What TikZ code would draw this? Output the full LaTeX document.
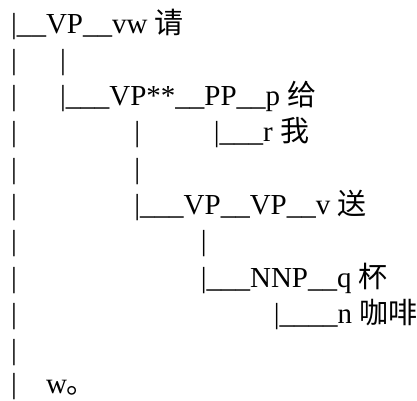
\documentclass[tikz,border=0pt]{standalone}
\usepackage{fontspec}
\setmainfont{Liberation Serif}
\newfontfamily\cjk{Noto Sans CJK SC}
\tikzset{
  ln/.style={anchor=base west, inner sep=0pt, outer sep=0pt, font=\fontsize{29}{36}\selectfont, text=black},
}
\begin{document}
\begin{tikzpicture}[x=1pt,y=-1pt]
\useasboundingbox (0,0) rectangle (417,400);
% line 1
\node[ln] (l1a) at (11.2,33) {\textbar\_\_VP\_\_vw {\cjk 请}};
% line 2
\node[ln] (l2a) at (11.2,69.3) {\textbar};
\node[ln] (l2b) at (60.1,69.3) {\textbar};
% line 3
\node[ln] (l3a) at (11.2,105.6) {\textbar};
\node[ln] (l3b) at (60.1,105.6) {\textbar\_\_\_VP**\_\_PP\_\_p {\cjk 给}};
% line 4
\node[ln] (l4a) at (11.2,141.9) {\textbar};
\node[ln] (l4c) at (134.4,141.9) {\textbar};
\node[ln] (l4d) at (213.8,141.9) {\textbar\_\_\_r {\cjk 我}};
% line 5
\node[ln] (l5a) at (11.2,178.2) {\textbar};
\node[ln] (l5c) at (134.4,178.2) {\textbar};
% line 6
\node[ln] (l6a) at (11.2,214.5) {\textbar};
\node[ln] (l6c) at (134.4,214.5) {\textbar\_\_\_VP\_\_VP\_\_v {\cjk 送}};
% line 7
\node[ln] (l7a) at (11.2,250.8) {\textbar};
\node[ln] (l7e) at (200.8,250.8) {\textbar};
% line 8
\node[ln] (l8a) at (11.2,287.1) {\textbar};
\node[ln] (l8e) at (200.8,287.1) {\textbar\_\_\_NNP\_\_q {\cjk 杯}};
% line 9
\node[ln] (l9a) at (11.2,323.4) {\textbar};
\node[ln] (l9f) at (273.8,323.4) {\textbar\_\_\_\_n {\cjk 咖啡}};
% line 10
\node[ln] (l10a) at (11.2,359.7) {\textbar};
% line 11
\node[ln] (l11a) at (11.2,393.5) {\textbar};
\node[ln] (l11w) at (46,393.5) {w{\cjk 。}};
\end{tikzpicture}
\end{document}
